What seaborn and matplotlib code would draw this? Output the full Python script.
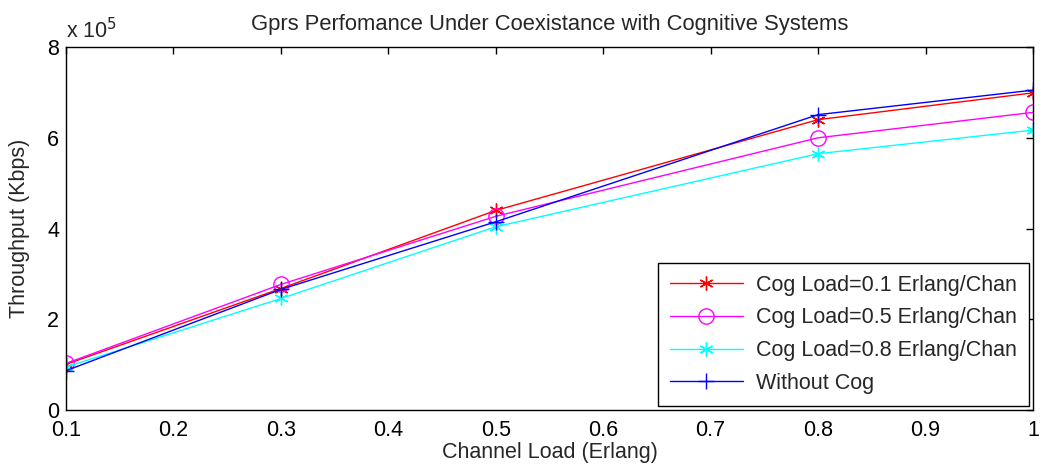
import matplotlib
matplotlib.use("Agg")
import matplotlib.pyplot as plt
import seaborn as sns
import pandas as pd
from matplotlib.ticker import FuncFormatter, FixedLocator

channel_load = [0.1, 0.3, 0.5, 0.8, 1.0]
cog_01 = [1.01e5, 2.68e5, 4.40e5, 6.40e5, 6.99e5]
cog_05 = [1.03e5, 2.77e5, 4.27e5, 6.00e5, 6.56e5]
cog_08 = [0.95e5, 2.46e5, 4.04e5, 5.65e5, 6.17e5]
no_cog = [0.87e5, 2.66e5, 4.15e5, 6.51e5, 7.05e5]

labels = ["Cog Load=0.1 Erlang/Chan", "Cog Load=0.5 Erlang/Chan",
          "Cog Load=0.8 Erlang/Chan", "Without Cog"]
series = [cog_01, cog_05, cog_08, no_cog]
colors = ["#ff0000", "#ff00ff", "#00ffff", "#0000ff"]
markers = [(6, 2, 0), "o", (6, 2, 0), "+"]
msizes = [10, 11, 10, 12]

sns.set_style("white")
plt.rcParams['font.family'] = ['Liberation Sans', 'DejaVu Sans']

fs = 15.5
fig = plt.figure(figsize=(10.43, 4.72), dpi=100)
ax = fig.add_axes([0.0633, 0.131, 0.9271, 0.7694])

for lab, vals, c, m, ms in zip(labels, series, colors, markers, msizes):
    df = pd.DataFrame({"x": channel_load, "y": vals})
    sns.lineplot(data=df, x="x", y="y", ax=ax, color=c, marker=m,
                 markersize=ms, markerfacecolor="none", markeredgecolor=c,
                 markeredgewidth=1.0, linewidth=1.0, label=lab)

ax.set_xlim(0.1, 1.0)
ax.set_ylim(0, 8e5)
ax.xaxis.set_major_locator(FixedLocator([0.1, 0.2, 0.3, 0.4, 0.5, 0.6, 0.7, 0.8, 0.9, 1.0]))
ax.xaxis.set_major_formatter(FuncFormatter(lambda v, p: "1" if abs(v - 1) < 1e-9 else f"{v:.1f}"))
ax.yaxis.set_major_locator(FixedLocator([0, 2e5, 4e5, 6e5, 8e5]))
ax.yaxis.set_major_formatter(FuncFormatter(lambda v, p: f"{v/1e5:.0f}"))
ax.tick_params(direction="in", top=True, right=True, length=5, width=1,
               labelsize=fs, colors="black")
ax.tick_params(axis="x", pad=7)
ax.tick_params(axis="y", pad=5)
for s in ax.spines.values():
    s.set_color("black")
    s.set_linewidth(1.0)

ax.set_xlabel("Channel Load (Erlang)", fontsize=fs, labelpad=1)
ax.set_ylabel("Throughput (Kbps)", fontsize=fs, labelpad=12)
ax.set_title("Gprs Perfomance Under Coexistance with Cognitive Systems", fontsize=15.8, pad=12)
ax.text(0.0, 1.01, "x 10$^{5}$", transform=ax.transAxes, fontsize=fs,
        ha="left", va="bottom")

leg = ax.legend(loc="lower right", fontsize=fs, frameon=True, fancybox=False,
                edgecolor="black", framealpha=1, borderaxespad=0.2,
                handlelength=3.4, handletextpad=0.6, labelspacing=0.55, borderpad=0.55)
leg.get_frame().set_linewidth(1.0)

fig.savefig("out.png", dpi=100)
